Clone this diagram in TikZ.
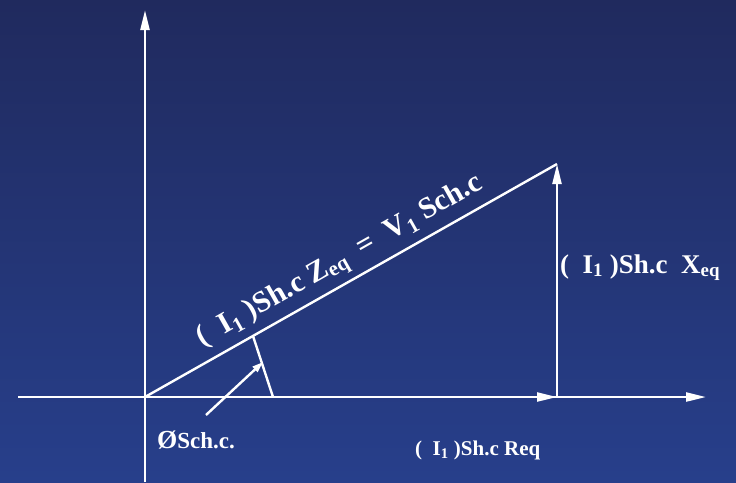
\documentclass[tikz,border=0pt]{standalone}
\usepackage{fontspec}
\setmainfont{Liberation Serif}
\usepackage{tikz}
\usetikzlibrary{arrows.meta}
\definecolor{bgTop}{HTML}{202A5E}
\definecolor{bgBot}{HTML}{273F8B}

\begin{document}
\begin{tikzpicture}[x=1pt, y=-1pt,
  ax/.style={draw=white, line width=2.4pt},
  vec/.style={draw=white, line width=2.4pt, -{Triangle[length=20pt,width=9pt]}},
  lbl/.style={text=white, inner sep=0pt, font=\bfseries\fontsize{27}{30}\selectfont},
  small/.style={text=white, inner sep=0pt, font=\bfseries\fontsize{21}{23}\selectfont}]
% background
\shade[top color=bgTop, bottom color=bgBot] (0,0) rectangle (736,482);
\useasboundingbox (0,0) rectangle (736,482);
% points
\coordinate (O) at (145,397);
\coordinate (xl) at (18,397);
\coordinate (xr) at (706,397);
\coordinate (yb) at (145,482);
\coordinate (yt) at (145,10);
\coordinate (R) at (557,397);
\coordinate (A) at (557,164);
\coordinate (p1) at (253,336);
\coordinate (p2) at (273,397);
\coordinate (t1) at (206,415);
\coordinate (t2) at (263,362);
% axes
\draw[vec] (xl) -- (xr);
\draw[vec] (yb) -- (yt);
% triangle
\draw[vec] (O) -- (R);
\draw[vec] (R) -- (A);
\draw[ax] (O) -- (A) node[lbl, font=\bfseries\fontsize{30}{32}\selectfont, pos=0.5, sloped, above=6pt] (zeq) {(\ \ I\textsubscript{1} )Sh.c Z\textsubscript{eq} \ =\ \ V\textsubscript{1} Sch.c};
% angle
\draw[ax] (p1) -- (p2);
\draw[ax, -{Triangle[length=11pt,width=7pt]}] (t1) -- (t2);
% labels
\node[lbl, anchor=base west] (xeq) at (560,273) {(\ \ I\textsubscript{1} )Sh.c\ \ X\textsubscript{eq}};
\node[small, anchor=base west] (req) at (415,455) {(\ \ I\textsubscript{1} )Sh.c Req};
\node[small, font=\bfseries\fontsize{23}{25}\selectfont, anchor=base west] (phi) at (157,448) {{\fontsize{26}{28}\selectfont Ø}Sch.c.};
\end{tikzpicture}
\end{document}
